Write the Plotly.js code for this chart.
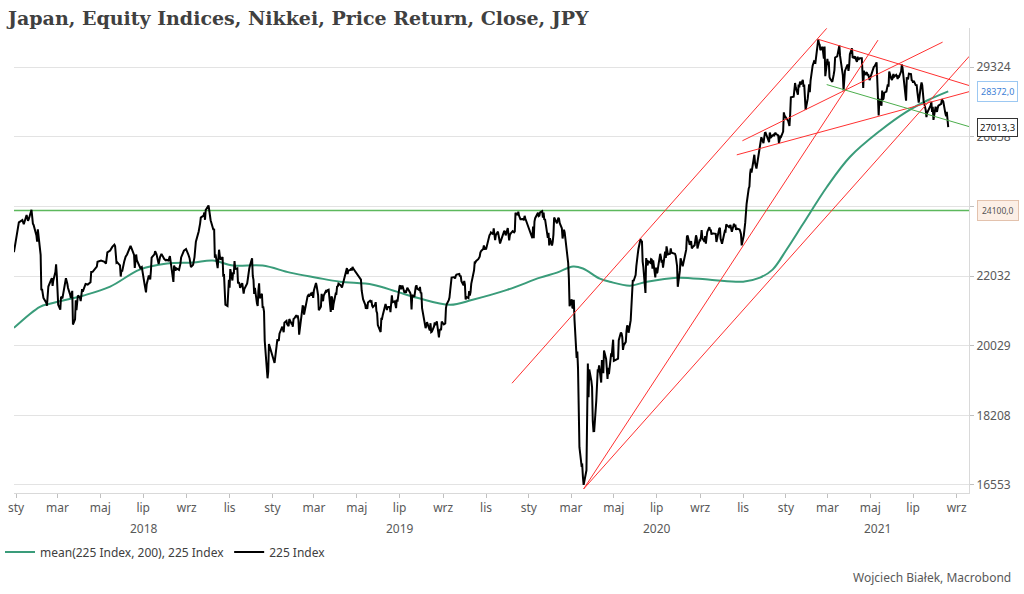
<!DOCTYPE html>
<html><head><meta charset="utf-8">
<script src="https://cdn.plot.ly/plotly-3.0.1.min.js"></script>
<style>html,body{margin:0;padding:0;background:#fff}#chart{width:1024px;height:594px}</style>
</head><body><div id="chart"></div>
<script>
// ---- Nikkei 225 close (days per month / values per month) ----
const d2017 = [[],[],[],[],[],[],[],[],[],[],[],[29]];
const v2017 = [[],[],[],[],[],[],[],[],[],[],[],[22765]];
const d2018 = [
 [4,5,10,12,16,17,18,19,23,25,26,30,31],
 [1,2,5,6,7,9,13,14,15,16,20,21,22,23,26,27,28],
 [1,2,5,6,8,9,12,13,15,16,19,20,22,23,26,27,28,30],
 [2,3,5,6,10,13,17,18,20,24,26,27],
 [2,7,9,11,15,18,21,22,24,25,29,30,31],
 [1,4,6,8,12,13,15,18,19,21,22,25,27,29],
 [2,3,5,6,9,11,12,13,17,18,20,23,25,27,31],
 [2,3,6,8,10,13,14,16,17,21,23,24,28,30,31],
 [3,5,7,10,12,13,14,18,19,20,21,25,26,27,28],
 [1,2,3,4,5,9,10,11,12,15,16,17,18,19,22,23,24,25,26,29,30,31],
 [1,2,5,6,7,8,9,12,13,14,15,16,19,20,21,22,26,27,28,29,30],
 [3,4,5,6,7,10,11,12,13,14,17,18,19,20,21,25,26,27,28]];
const v2018 = [
 [23506,23714,23788,23653,23952,23868,23763,23808,24124,23669,23631,23291,23098],
 [23486,23274,22682,21610,21645,21383,21245,21154,21464,21720,21925,21970,21737,21892,22153,22389,22068],
 [21724,21182,21042,21417,21368,21469,21824,21968,21803,21676,21480,21380,21591,20617,20766,21317,21031,21454],
 [21388,21292,21645,21568,21794,21778,21847,22158,22162,22278,22319,22467],
 [22508,22467,22409,22758,22818,22930,23002,22960,22437,22450,22358,22018,22202],
 [22171,22475,22626,22694,22878,22966,22851,22680,22278,22693,22516,22338,22272,22304],
 [21811,21785,21546,21788,22052,21932,22187,22597,22697,22794,22698,22397,22614,22712,22553],
 [22512,22525,22507,22644,22298,21857,22356,22192,22270,22219,22410,22601,22813,22869,22865],
 [22707,22580,22307,22373,22604,22821,23094,23420,23672,23674,23869,23940,24033,23797,24120],
 [24245,24270,24110,23975,23784,23469,23507,22591,22694,22271,22549,22841,22658,22532,22614,22011,22091,21268,21184,21149,21458,21920],
 [21687,22243,21898,22148,22086,22487,22250,22270,21811,21846,21804,21680,21821,21583,21507,21647,21812,21952,22177,22262,22351],
 [22574,22036,21919,21501,21679,21220,21148,21603,21817,21374,21506,21116,21115,20987,20166,19155,19327,20078,20015]];
const d2019 = [
 [4,7,8,10,11,15,16,17,18,21,22,23,24,25,28,29,30,31],
 [1,4,5,6,7,8,12,13,14,15,18,19,20,21,22,25,26,27,28],
 [1,4,5,6,7,8,11,12,13,14,15,18,19,20,22,25,26,27,28,29],
 [1,2,3,4,5,8,10,12,15,16,17,18,19,22,23,24,25,26],
 [7,8,9,10,13,14,15,16,17,20,21,22,23,24,27,28,29,30,31],
 [3,4,5,6,7,10,11,12,13,14,17,18,19,20,21,24,25,26,27,28],
 [1,2,3,4,5,8,9,10,11,12,16,17,18,19,22,23,24,25,26,29,30,31],
 [1,2,5,6,7,8,9,13,14,15,16,19,20,21,22,23,26,27,28,29,30],
 [2,3,4,5,6,9,10,11,12,13,17,18,19,20,24,25,26,27,30],
 [1,2,3,4,7,8,9,10,11,15,16,17,18,21,23,24,25,28,29,30,31],
 [1,5,6,7,8,11,12,13,14,15,18,19,20,21,22,25,26,27,28,29],
 [2,3,4,5,6,9,10,11,12,13,16,17,18,19,20,23,24,25,26,27,30]];
const v2019 = [
 [19562,20038,20204,20164,20360,20556,20442,20402,20666,20719,20623,20594,20574,20774,20649,20664,20556,20773],
 [20788,20884,20844,20874,20751,20333,20864,21144,21139,20900,21281,21302,21431,21464,21425,21528,21449,21556,21385],
 [21602,21822,21726,21596,21456,21025,21125,21503,21290,21287,21451,21584,21566,21608,21627,20977,21428,21378,21033,21206],
 [21509,21505,21713,21724,21807,21761,21687,21870,22169,22221,22277,22090,22200,22218,22260,22200,22307,22259],
 [21923,21602,21402,21345,21191,21067,21189,21062,21250,21301,21272,21283,21151,21117,21182,21260,21003,20942,20601],
 [20410,20408,20776,20774,20884,21134,21204,21129,21032,21116,21124,20972,21333,21462,21258,21285,21193,21086,21338,21275],
 [21729,21754,21638,21702,21746,21534,21565,21533,21643,21685,21535,21469,21046,21466,21416,21620,21709,21756,21658,21616,21709,21521],
 [21540,21087,20720,20585,20516,20593,20684,20455,20655,20405,20418,20563,20677,20618,20628,20710,20261,20456,20479,20460,20704],
 [20620,20625,20649,21085,21200,21318,21392,21597,21759,21988,22001,21960,22044,22079,22098,22020,22048,21879,21756],
 [21885,21778,21341,21410,21375,21587,21456,21551,21798,22207,22472,22451,22492,22548,22625,22750,22799,22867,22974,22843,22927],
 [22850,23251,23303,23330,23391,23331,23520,23319,23141,23303,23416,23292,23148,23038,23112,23292,23373,23437,23409,23293],
 [23529,23379,23135,23300,23354,23430,23410,23391,23424,24023,23952,24066,23934,23864,23816,23821,23830,23782,23925,23837,23657]];
const d2020 = [
 [6,7,8,9,10,14,15,16,17,20,21,22,23,24,27,28,29,30,31],
 [3,4,5,6,7,10,12,13,14,17,18,19,20,21,25,26,27,28],
 [2,3,4,5,6,9,10,11,12,13,16,17,18,19,23,24,25,26,27,30,31],
 [1,2,3,6,7,8,9,10,13,14,15,16,17,20,21,22,23,24,27,28,30],
 [1,7,8,11,12,13,14,15,18,19,20,21,22,25,26,27,28,29],
 [1,2,3,4,5,8,9,10,11,12,15,16,17,18,19,22,23,24,25,26,29,30],
 [1,2,3,6,7,8,9,10,13,14,15,16,17,20,21,22,27,28,29,30,31],
 [3,4,5,6,7,11,12,13,14,17,18,19,20,21,24,25,26,27,28,31],
 [1,2,3,4,7,8,9,10,11,14,15,16,17,18,23,24,25,28,29,30],
 [2,5,6,7,8,9,12,13,14,15,16,19,20,21,22,23,26,27,28,29,30],
 [2,4,5,6,9,10,11,12,13,16,17,18,19,20,24,25,26,27,30],
 [1,2,3,4,7,8,9,10,11,14,15,16,17,18,21,22,23,24,25,28,29,30]];
const v2020 = [
 [23204,23576,23204,23740,23850,24025,23917,23933,24041,24083,23865,24031,23795,23827,23344,23216,23379,22977,23205],
 [22972,23085,23320,23873,23828,23686,23861,23828,23688,23523,23194,23400,23479,23387,22606,22426,21948,21143],
 [21344,21083,21100,21329,20750,19699,19867,19416,18560,17431,17002,17011,16727,16553,16888,18092,19546,18665,19389,19084,18917],
 [18066,17819,17820,18576,18950,19353,19345,19499,19043,19639,19551,19290,19897,19670,19281,19138,19429,19262,19783,19771,20194],
 [19619,19675,20179,20391,20367,20267,19915,20037,20134,20433,20595,20552,20388,20742,21271,21419,21916,21878],
 [22062,22326,22614,22695,22863,23178,23091,23124,22473,22305,21530,22582,22456,22355,22479,22437,22549,22535,22260,22512,21995,22288],
 [22122,22146,22306,22714,22614,22439,22529,22291,22785,22587,22945,22770,22696,22717,22884,22751,22716,22657,22397,22339,21710],
 [22196,22573,22514,22418,22329,22750,22844,23249,23289,22997,23051,23111,22880,22920,22985,23297,23296,23208,22882,23140],
 [23138,23247,23465,23205,23089,23274,23032,23235,23406,23559,23454,23475,23320,23360,23346,23087,23204,23511,23539,23185],
 [23029,23312,23433,23422,23647,23619,23558,23601,23626,23507,23410,23671,23567,23639,23474,23516,23494,23485,23418,23331,22977],
 [23295,23695,24105,24325,24839,24905,25349,25520,25385,25907,26014,25728,25634,25527,26165,26297,26537,26644,26434],
 [26787,26801,26809,26751,26547,26467,26818,26756,26652,26733,26688,26758,26807,26763,26715,26436,26524,26668,26656,26854,27568,27444]];
const d2021 = [
 [4,5,6,7,8,12,13,14,15,18,19,20,21,22,25,26,27,28,29],
 [1,2,3,4,5,8,9,10,12,15,16,17,18,19,22,24,25,26],
 [1,2,3,4,5,8,9,10,11,12,15,16,17,18,19,22,23,24,25,26,29,30,31],
 [1,2,5,6,7,8,9,12,13,14,15,16,19,20,21,22,23,26,27,28,30],
 [6,7,10,11,12,13,14,17,18,19,20,21,24,25,26,27,28,31],
 [1,2,3,4,7,8,9,10,11,14,15,16,17,18,21,22,23,24,25,28,29,30],
 [1,2,5,6,7,8,9,12,13,14,15,16,19,20,21,26,27,28,29,30],
 [2,3,4,5,6,10,11,12,13,16,17,18,19,20]];
const v2021 = [
 [27258,27159,27056,27490,28139,28164,28456,28698,28519,28242,28633,28523,28756,28631,28822,28546,28635,28197,27663],
 [28091,28362,28646,28341,28779,29388,29505,29562,29520,30084,30468,30292,30236,30018,30156,29672,30168,28966],
 [29664,29408,29559,28930,28864,28744,29028,29036,29212,29718,29766,29921,29914,30216,29792,29174,28996,28406,28729,29176,29385,29432,29179],
 [29389,29854,30089,29697,29731,29709,29768,29539,29752,29621,29643,29683,29685,29101,28508,29189,29021,29127,28992,29054,28813],
 [29331,29358,29519,28609,28147,27448,28085,27825,28407,28045,28099,28318,28365,28553,28643,28550,29149,28860],
 [28815,28946,29059,28942,29020,28964,28861,28959,28949,29162,29441,29291,29018,28964,28011,28885,28875,28875,29066,29048,28812,28792],
 [28707,28783,28599,28643,28366,28118,27940,28570,28719,28609,28279,28003,27652,27389,27548,27834,27970,27582,27782,27284],
 [27782,27642,27584,27729,27820,27889,28070,28016,27977,27523,27424,27585,27281,27013.25]];

// ---- 200-day moving average ----
const maDates = ['2017-12-29','2018-02-04','2018-02-18','2018-04-06','2018-05-15','2018-06-26','2018-08-04','2018-09-10','2018-10-08','2018-11-06','2018-12-18',
 '2019-01-26','2019-03-05','2019-04-07','2019-05-24','2019-06-27','2019-07-26','2019-09-11','2019-10-13','2019-12-01',
 '2020-01-17','2020-02-10','2020-03-04','2020-03-18','2020-04-11','2020-04-25','2020-05-24','2020-06-17','2020-07-30','2020-09-15','2020-11-01','2020-11-25','2020-12-13',
 '2021-01-02','2021-01-25','2021-02-28','2021-04-02','2021-05-15','2021-06-22','2021-07-21','2021-08-20'];
const maValues = [20524,21125,21213,21448,21716,22228,22412,22444,22506,22351,22351,
 22136,21984,21863,21773,21567,21388,21183,21330,21620,
 21984,22136,22322,22261,21954,21863,21744,21863,21984,21924,21863,21984,22228,
 22850,23651,24882,25935,26884,27597,28019,28372.0];

// ---- drawn trend lines (start date, start level, end date, end level) ----
const redFromDates = ['2019-12-08','2020-03-19','2020-03-19','2020-10-31','2020-10-23','2021-02-16'];
const redFromValues = [19026,16462,16462,26516,26010,30468];
const redToDates = ['2021-02-28','2021-05-12','2021-09-19','2021-08-12','2021-09-19','2021-09-19'];
const redToValues = [30928,30433,29769,30350,28362,28597];
const greenTrendDates = ['2021-02-28','2021-09-19'];
const greenTrendValues = [28637,27033];
const levelLine = 24100.0;

// ---- axis labels ----
const yTickVals = [16553,18208,20029,22032,24235,26658,29324];
const yTickText = ['16553','18208','20029','22032','','26658','29324'];
const monthNames = ['sty','mar','maj','lip','wrz','lis'];
const years = [2018,2019,2020,2021];
const xStart = '2017-12-29 02:00', xEnd = '2021-09-18 14:00';

// ---- build series ----
const pad = n => (n < 10 ? '0' : '') + n;
const dates = [], close = [];
[[2017,d2017,v2017],[2018,d2018,v2018],[2019,d2019,v2019],[2020,d2020,v2020],[2021,d2021,v2021]].forEach(([y, dd, vv]) => {
  dd.forEach((days, m) => days.forEach((d, i) => {
    dates.push(y + '-' + pad(m + 1) + '-' + pad(d));
    close.push(vv[m][i]);
  }));
});

const traces = [];
traces.push({x: [xStart, xEnd], y: [levelLine, levelLine], mode: 'lines', line: {color: '#5cb85c', width: 1.5}, showlegend: false, hoverinfo: 'skip'});
traces.push({x: maDates, y: maValues, mode: 'lines', name: 'mean(225 Index, 200), 225 Index', line: {color: '#3a9c7a', width: 2, shape: 'spline'}, legendrank: 1});
traces.push({x: dates, y: close, mode: 'lines', name: '225 Index', line: {color: '#000000', width: 2}, legendrank: 2});
for (let i = 0; i < redFromDates.length; i++) {
  traces.push({x: [redFromDates[i], redToDates[i]], y: [redFromValues[i], redToValues[i]], mode: 'lines', line: {color: '#ff3030', width: 1}, showlegend: false, hoverinfo: 'skip'});
}
traces.push({x: greenTrendDates, y: greenTrendValues, mode: 'lines', line: {color: '#4cae4c', width: 1}, showlegend: false, hoverinfo: 'skip'});

// x ticks every two months
const xTickVals = [], xTickText = [];
years.forEach(y => monthNames.forEach((n, k) => {
  const v = y + '-' + pad(2 * k + 1) + '-01';
  if (v <= xEnd) { xTickVals.push(v); xTickText.push(n); }
}));

const fontFam = 'Noto Sans, Open Sans, sans-serif';
const labelFmt = v => v.toFixed(1).replace('.', ',');
const lastClose = close[close.length - 1];
const lastMa = maValues[maValues.length - 1];

const W = 1024, H = 594, mL = 14, mR = 55, mT = 28, mB = 101;
const pw = W - mL - mR, ph = H - mT - mB;

const annotations = [];
// year labels centred under the visible part of each year
years.forEach(y => {
  const a = Math.max(Date.parse(y + '-01-01'), Date.parse(xStart.replace(' ', 'T') + 'Z'));
  const b = Math.min(Date.parse((y + 1) + '-01-01'), Date.parse(xEnd.replace(' ', 'T') + 'Z'));
  const mid = new Date((a + b) / 2).toISOString().slice(0, 10);
  annotations.push({x: mid, xref: 'x', y: -(528 - (H - mB)) / ph, yref: 'paper', text: String(y), showarrow: false,
    xanchor: 'center', yanchor: 'middle', font: {family: fontFam, size: 12, color: '#595959'}});
});
annotations.push({x: 1, xref: 'paper', xshift: 8, y: Math.log10(lastMa), yref: 'y', text: labelFmt(lastMa), showarrow: false,
  xanchor: 'left', yanchor: 'middle', bgcolor: '#ffffff', bordercolor: '#9cc8f2', borderwidth: 1, borderpad: 3,
  font: {family: fontFam, size: 9, color: '#3d7fd6'}});
annotations.push({x: 1, xref: 'paper', xshift: 8, y: Math.log10(lastClose), yref: 'y', text: labelFmt(lastClose), showarrow: false,
  xanchor: 'left', yanchor: 'middle', bgcolor: '#ffffff', bordercolor: '#333333', borderwidth: 1, borderpad: 2,
  font: {family: fontFam, size: 9.5, color: '#111111'}});
annotations.push({x: 1, xref: 'paper', xshift: 8, y: Math.log10(levelLine), yref: 'y', text: labelFmt(levelLine), showarrow: false,
  xanchor: 'left', yanchor: 'middle', bgcolor: '#fcefe6', bordercolor: '#e3c2ad', borderwidth: 1, borderpad: 4,
  font: {family: fontFam, size: 8.5, color: '#555555'}});
annotations.push({x: (1013 - mL) / pw, xref: 'paper', y: -(577 - (H - mB)) / ph, yref: 'paper', text: 'Wojciech Białek, Macrobond', showarrow: false,
  xanchor: 'right', yanchor: 'middle', font: {family: fontFam, size: 12, color: '#595959'}});

const layout = {
  width: W, height: H,
  margin: {l: mL, r: mR, t: mT, b: mB, pad: 0},
  paper_bgcolor: '#ffffff', plot_bgcolor: '#ffffff',
  title: {text: 'Japan, Equity Indices, Nikkei, Price Return, Close, JPY', x: 8 / W, xref: 'container', xanchor: 'left',
    y: 1 - 18 / H, yref: 'container', yanchor: 'middle',
    font: {family: 'DejaVu Serif, serif', size: 19, weight: 'bold', color: '#404040'}},
  xaxis: {type: 'date', range: [xStart, xEnd], tickmode: 'array', tickvals: xTickVals, ticktext: xTickText,
    showgrid: false, zeroline: false, showline: true, linecolor: '#d9d9d9', linewidth: 1, automargin: false,
    ticks: 'outside', ticklen: 4, tickcolor: '#c0c0c0', tickfont: {family: fontFam, size: 12, color: '#595959'}},
  yaxis: {type: 'log', side: 'right', range: [Math.log10(16371), Math.log10(30943)], tickmode: 'array', tickvals: yTickVals, ticktext: yTickText,
    showgrid: true, gridcolor: '#e3e3e3', gridwidth: 1, zeroline: false, showline: true, linecolor: '#d9d9d9', linewidth: 1, automargin: false,
    ticks: 'outside', ticklen: 4, tickcolor: '#c0c0c0', tickfont: {family: fontFam, size: 12, color: '#595959'}},
  legend: {orientation: 'h', xref: 'container', x: 0, xanchor: 'left', yref: 'container', y: 1 - 552 / H, yanchor: 'middle',
    font: {family: fontFam, size: 12, color: '#404040'}, itemwidth: 30, bgcolor: 'rgba(0,0,0,0)', tracegroupgap: 0},
  annotations: annotations,
  showlegend: true
};

Plotly.newPlot('chart', traces, layout, {displayModeBar: false, staticPlot: true});
</script>
</body></html>
